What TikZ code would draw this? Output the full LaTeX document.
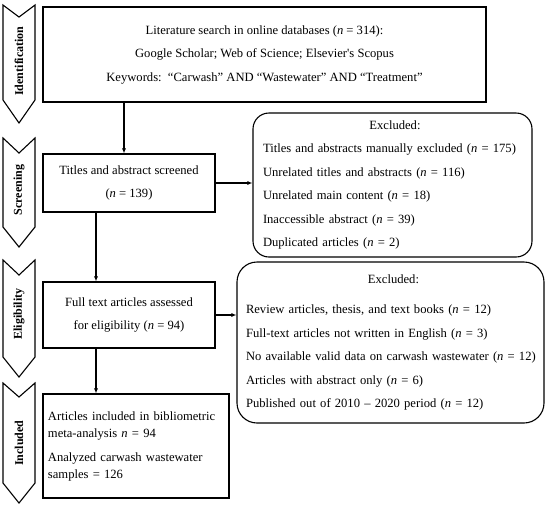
\documentclass[tikz,border=0pt]{standalone}
\usepackage{fontspec}
\setmainfont{Liberation Serif}
\usetikzlibrary{arrows.meta}
\begin{document}
\begin{tikzpicture}[x=1pt,y=-1pt,
  box/.style={draw, line width=1.1pt, inner sep=0pt, font=\fontsize{12.6}{23.5}\selectfont},
  arr/.style={line width=1.1pt, -{Latex[length=5pt,width=4pt]}},
  chev/.style={draw, line width=1.1pt, line join=miter},
  lab/.style={rotate=90, font=\bfseries\fontsize{12}{12}\selectfont}]
\useasboundingbox (0,0) rectangle (550,507);
% stage chevrons
\draw[chev] (3,5) -- (19,17) -- (35,5) -- (35,100) -- (19,123) -- (3,100) -- cycle;
\node[lab] (lid) at (19,61) {Identification};
\draw[chev] (3,138) -- (19,153) -- (35,138) -- (35,227) -- (19,247) -- (3,227) -- cycle;
\node[lab] (lsc) at (19,190) {Screening};
\draw[chev] (3,260) -- (19,275) -- (35,260) -- (35,357) -- (19,377) -- (3,357) -- cycle;
\node[lab] (lel) at (19,314) {Eligibility};
\draw[chev] (3,383) -- (19,397) -- (35,383) -- (35,483) -- (19,503) -- (3,483) -- cycle;
\node[lab] (lin) at (19,443) {Included};
% boxes
\node[box, minimum width=443pt, minimum height=95pt, align=center] (search) at (264.5,54.5)
 {Literature search in online databases (\textit{n} = 314):\\
  Google Scholar; Web of Science; Elsevier\textquotesingle s Scopus\\
  Keywords:\ \ “Carwash” AND “Wastewater” AND “Treatment”};
\node[box, minimum width=172pt, minimum height=58pt, align=center] (screen) at (129,183)
 {Titles and abstract screened\\ (\textit{n} = 139)};
\node[box, minimum width=172pt, minimum height=66pt, align=center] (full) at (129,315)
 {Full text articles assessed\\ for eligibility (\textit{n} = 94)};
\node[box, minimum width=186pt, minimum height=104pt, text width=176pt, align=left,
  font=\fontsize{12.6}{17}\selectfont] (incl) at (136,446)
 {Articles included in bibliometric\\ meta-analysis \textit{n} = 94\\[7pt]
  Analyzed carwash wastewater\\ samples = 126};
\node[box, rounded corners=16pt, minimum width=279pt, minimum height=144pt, text width=269pt, align=left] (exc1) at (392.5,185)
 {\leftskip=5pt\makebox[\dimexpr\hsize-5pt]{Excluded:}\\
  Titles and abstracts manually excluded (\textit{n} = 175)\\
  Unrelated titles and abstracts (\textit{n} = 116)\\
  Unrelated main content (\textit{n} = 18)\\
  Inaccessible abstract (\textit{n} = 39)\\
  Duplicated articles (\textit{n} = 2)\par};
\node[box, rounded corners=20pt, minimum width=307pt, minimum height=161pt, text width=301pt, align=left] (exc2) at (390.5,342.5)
 {\leftskip=6pt\makebox[\dimexpr\hsize-6pt]{Excluded:}\\[6.5pt]
  Review articles, thesis, and text books (\textit{n} = 12)\\
  Full-text articles not written in English (\textit{n} = 3)\\
  No available valid data on carwash wastewater (\textit{n} = 12)\\
  Articles with abstract only (\textit{n} = 6)\\
  Published out of 2010 – 2020 period (\textit{n} = 12)\par};
% connectors
\draw[arr] ([xshift=-5pt]screen.north |- search.south) -- ([xshift=-5pt]screen.north);
\draw[arr] (screen.east) -- (screen.east -| exc1.west);
\draw[arr] ([xshift=-33pt]screen.south) -- ([xshift=-33pt]full.north);
\draw[arr] (full.east) -- (full.east -| exc2.west);
\draw[arr] ([xshift=-33pt]full.south) -- ([xshift=-33pt]full.south |- incl.north);
\end{tikzpicture}
\end{document}
